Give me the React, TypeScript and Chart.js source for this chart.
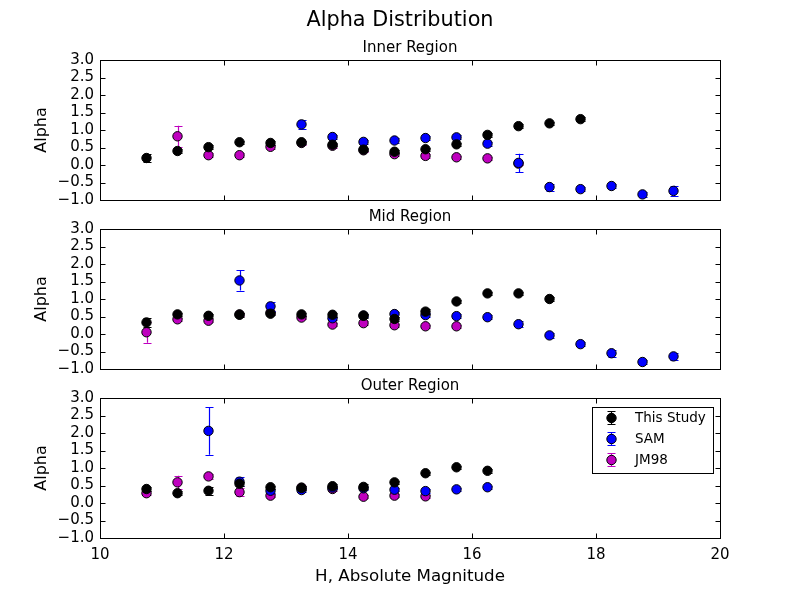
import { useEffect, useRef } from "react";
import { Chart, registerables } from "chart.js";

Chart.register(...registerables);

const magnitudes = [10.75, 11.25, 11.75, 12.25, 12.75, 13.25, 13.75, 14.25, 14.75, 15.25, 15.75, 16.25, 16.75, 17.25, 17.75, 18.25, 18.75, 19.25];
const xTicks = [10, 12, 14, 16, 18, 20];
const yTicks = [-1, -0.5, 0, 0.5, 1, 1.5, 2, 2.5, 3];
const seriesNames = ["This Study", "SAM", "JM98"];
const seriesColors = ["#000000", "#0000ff", "#bf00bf"];
const figureTitle = "Alpha Distribution";
const panelTitles = ["Inner Region", "Mid Region", "Outer Region"];

// Inner Region
const innerStudy = [0.2, 0.4, 0.51, 0.65, 0.63, 0.65, 0.58, 0.44, 0.38, 0.45, 0.59, 0.86, 1.11, 1.19, 1.31, null, null, null];
const innerStudyErr = [0.12, 0.06, 0.05, 0.05, 0.05, 0.05, 0.05, 0.05, 0.05, 0.05, 0.05, 0.05, 0.05, 0.05, 0.05, null, null, null];
const innerSam = [null, null, null, null, null, 1.16, 0.8, 0.66, 0.7, 0.77, 0.79, 0.61, 0.06, -0.63, -0.69, -0.6, -0.84, -0.74];
const innerSamErr = [null, null, null, null, null, 0.12, 0.07, 0.06, 0.06, 0.06, 0.06, 0.06, 0.26, 0.1, 0.06, 0.06, 0.08, 0.15];
const innerJm = [null, 0.82, 0.28, 0.28, 0.52, 0.63, 0.55, 0.42, 0.31, 0.26, 0.22, 0.19, 0.04, null, null, null, null, null];
const innerJmErr = [null, 0.3, 0.05, 0.05, 0.05, 0.05, 0.05, 0.05, 0.05, 0.05, 0.05, 0.05, 0.05, null, null, null, null, null];

// Mid Region
const midStudy = [0.33, 0.56, 0.52, 0.55, 0.58, 0.56, 0.55, 0.52, 0.43, 0.64, 0.93, 1.16, 1.16, 1.0, null, null, null, null];
const midStudyErr = [0.13, 0.05, 0.05, 0.05, 0.05, 0.05, 0.05, 0.05, 0.05, 0.08, 0.05, 0.05, 0.05, 0.05, null, null, null, null];
const midSam = [null, null, null, 1.53, 0.79, null, 0.45, 0.53, 0.57, 0.54, 0.51, 0.48, 0.28, -0.04, -0.29, -0.55, -0.8, -0.64];
const midSamErr = [null, null, null, 0.29, 0.12, null, 0.05, 0.05, 0.07, 0.05, 0.05, 0.05, 0.08, 0.07, 0.05, 0.1, 0.05, 0.1];
const midJm = [0.05, 0.42, 0.38, 0.56, 0.61, 0.47, 0.27, 0.31, 0.25, 0.22, 0.22, null, null, null, null, null, null, null];
const midJmErr = [0.3, 0.05, 0.05, 0.05, 0.05, 0.05, 0.05, 0.05, 0.05, 0.05, 0.05, null, null, null, null, null, null, null];

// Outer Region
const outerStudy = [0.4, 0.28, 0.35, 0.55, 0.45, 0.43, 0.48, 0.46, 0.59, 0.85, 1.02, 0.92, null, null, null, null, null, null];
const outerStudyErr = [0.07, 0.06, 0.12, 0.05, 0.05, 0.05, 0.05, 0.07, 0.05, 0.05, 0.05, 0.05, null, null, null, null, null, null];
const outerSam = [null, null, 2.06, 0.61, 0.35, 0.37, 0.44, 0.42, 0.38, 0.34, 0.39, 0.45, null, null, null, null, null, null];
const outerSamErr = [null, null, 0.68, 0.13, 0.05, 0.05, 0.05, 0.05, 0.05, 0.05, 0.05, 0.05, null, null, null, null, null, null];
const outerJm = [0.28, 0.59, 0.76, 0.31, 0.21, 0.44, 0.4, 0.18, 0.21, 0.19, null, null, null, null, null, null, null, null];
const outerJmErr = [0.05, 0.19, 0.06, 0.12, 0.05, 0.05, 0.05, 0.05, 0.05, 0.05, null, null, null, null, null, null, null, null];

const FONT = "'DejaVu Sans', sans-serif";

type Num = number | null;

function buildPoints(vals: Num[], errs: Num[]) {
  const pts: any[] = [];
  magnitudes.forEach((x, i) => {
    const v = vals[i];
    if (v !== null && v !== undefined) pts.push({ x, y: v, e: errs[i] ?? 0 });
  });
  return pts;
}

type PanelProps = {
  top: number;
  height: number;
  areaTop: number;
  title: string;
  titleY: number;
  figTitle?: string;
  figTitleY?: number;
  xAxisHeight: number;
  showX: boolean;
  showLegend: boolean;
  series: Num[][];
};

function Panel(props: PanelProps) {
  const ref = useRef<HTMLCanvasElement | null>(null);
  useEffect(() => {
    const canvas = ref.current;
    if (!canvas) return;
    const [s1, e1, s2, e2, s3, e3] = props.series;
    const datasets = [
      [s1, e1],
      [s2, e2],
      [s3, e3],
    ].map(([v, e], k) => ({
      label: seriesNames[k],
      data: buildPoints(v, e),
      backgroundColor: seriesColors[k],
      borderColor: "#000000",
      borderWidth: 1,
      pointRadius: 4.7,
      pointHoverRadius: 4.7,
      showLine: false,
    }));

    const decor = {
      id: "decor",
      beforeDatasetDraw(chart: any, args: any) {
        const ctx = chart.ctx;
        const ca = chart.chartArea;
        const xs = chart.scales.x;
        const ys = chart.scales.y;
        const ds = chart.data.datasets[args.index];
        const color = seriesColors[args.index];
        ctx.save();
        ctx.beginPath();
        ctx.rect(ca.left, ca.top, ca.right - ca.left, ca.bottom - ca.top);
        ctx.clip();
        ctx.strokeStyle = color;
        ctx.lineWidth = 1.2;
        ds.data.forEach((p: any) => {
          if (!p.e) return;
          const px = Math.round(xs.getPixelForValue(p.x)) + 0.5;
          const y1 = ys.getPixelForValue(p.y + p.e);
          const y2 = ys.getPixelForValue(p.y - p.e);
          ctx.beginPath();
          ctx.moveTo(px, y1);
          ctx.lineTo(px, y2);
          ctx.moveTo(px - 4, Math.round(y1) + 0.5);
          ctx.lineTo(px + 4, Math.round(y1) + 0.5);
          ctx.moveTo(px - 4, Math.round(y2) + 0.5);
          ctx.lineTo(px + 4, Math.round(y2) + 0.5);
          ctx.stroke();
        });
        ctx.restore();
      },
      afterDraw(chart: any) {
        const ctx = chart.ctx;
        const ca = chart.chartArea;
        const xs = chart.scales.x;
        const ys = chart.scales.y;
        const L = Math.round(ca.left) + 0.5;
        const R = Math.round(ca.right) + 0.5;
        const T = Math.round(ca.top) + 0.5;
        const B = Math.round(ca.bottom) + 0.5;
        ctx.save();
        ctx.strokeStyle = "#000000";
        ctx.lineWidth = 1;
        ctx.strokeRect(L, T, R - L, B - T);
        const tl = 5;
        ctx.beginPath();
        xTicks.forEach((v) => {
          const px = Math.round(xs.getPixelForValue(v)) + 0.5;
          ctx.moveTo(px, B);
          ctx.lineTo(px, B - tl);
          ctx.moveTo(px, T);
          ctx.lineTo(px, T + tl);
        });
        yTicks.forEach((v) => {
          const py = Math.round(ys.getPixelForValue(v)) + 0.5;
          ctx.moveTo(L, py);
          ctx.lineTo(L + tl, py);
          ctx.moveTo(R, py);
          ctx.lineTo(R - tl, py);
        });
        ctx.stroke();

        // titles
        ctx.fillStyle = "#000000";
        ctx.textAlign = "center";
        ctx.textBaseline = "middle";
        ctx.font = `15px ${FONT}`;
        ctx.fillText(props.title, (ca.left + ca.right) / 2, props.titleY);
        if (props.figTitle) {
          ctx.font = `20.8px ${FONT}`;
          ctx.fillText(props.figTitle, chart.width / 2, props.figTitleY);
        }

        if (props.showLegend) {
          const bw = 121;
          const bh = 66;
          const bx = Math.round(ca.right) - 7 - bw;
          const by = Math.round(ca.top) + 9;
          ctx.fillStyle = "#ffffff";
          ctx.fillRect(bx, by, bw, bh);
          ctx.strokeStyle = "#000000";
          ctx.lineWidth = 1;
          ctx.strokeRect(bx + 0.5, by + 0.5, bw, bh);
          seriesNames.forEach((name, i) => {
            const cy = by + 11 + i * 21;
            const mx = bx + 19.5;
            ctx.strokeStyle = seriesColors[i];
            ctx.lineWidth = 1.2;
            ctx.beginPath();
            ctx.moveTo(mx, cy - 7);
            ctx.lineTo(mx, cy + 7);
            ctx.moveTo(mx - 4, cy - 6.5);
            ctx.lineTo(mx + 4, cy - 6.5);
            ctx.moveTo(mx - 4, cy + 6.5);
            ctx.lineTo(mx + 4, cy + 6.5);
            ctx.stroke();
            ctx.lineWidth = 1;
            ctx.beginPath();
            ctx.arc(mx, cy, 4.7, 0, Math.PI * 2);
            ctx.fillStyle = seriesColors[i];
            ctx.fill();
            ctx.strokeStyle = "#000000";
            ctx.stroke();
            ctx.fillStyle = "#000000";
            ctx.font = `13.5px ${FONT}`;
            ctx.textBaseline = "middle";
            ctx.textAlign = "left";
            ctx.fillText(name, bx + 43, cy);
          });
        }
        ctx.restore();
      },
    };

    const chart = new Chart(canvas, {
      type: "scatter",
      data: { datasets },
      options: {
        responsive: false,
        maintainAspectRatio: false,
        animation: false,
        events: [],
        layout: { padding: { left: 0, right: 80, top: props.areaTop, bottom: 0 } },
        plugins: {
          legend: { display: false },
          tooltip: { enabled: false },
          title: { display: false },
        },
        scales: {
          x: {
            type: "linear",
            min: 10,
            max: 20,
            afterBuildTicks: (s: any) => {
              s.ticks = xTicks.map((v) => ({ value: v }));
            },
            afterFit: (s: any) => {
              s.height = props.xAxisHeight;
            },
            grid: { display: false, drawTicks: false },
            border: { display: false },
            ticks: {
              display: props.showX,
              color: "#000000",
              font: { family: FONT, size: 15 },
              padding: 8,
              maxRotation: 0,
              autoSkip: false,
              callback: (v: any) => String(v),
            },
            title: {
              display: props.showX,
              text: "H, Absolute Magnitude",
              color: "#000000",
              font: { family: FONT, size: 16.7, lineHeight: 1.2 },
              padding: { top: 0, bottom: 13 },
            },
          },
          y: {
            type: "linear",
            min: -1,
            max: 3,
            afterBuildTicks: (s: any) => {
              s.ticks = yTicks.map((v) => ({ value: v }));
            },
            afterFit: (s: any) => {
              s.width = 100;
            },
            grid: { display: false, drawTicks: false },
            border: { display: false },
            ticks: {
              color: "#000000",
              font: { family: FONT, size: 15 },
              padding: 6,
              autoSkip: false,
              callback: (v: any) => Number(v).toFixed(1).replace("-", "\u2212"),
            },
            title: {
              display: true,
              text: "Alpha",
              color: "#000000",
              font: { family: FONT, size: 16, lineHeight: 1.2 },
              padding: { top: 32, bottom: 0 },
            },
          },
        },
      } as any,
      plugins: [decor as any],
    });
    return () => chart.destroy();
  }, []);

  return (
    <canvas
      ref={ref}
      width={800}
      height={props.height}
      style={{ position: "absolute", left: 0, top: props.top, width: 800, height: props.height }}
    />
  );
}

export default function App() {
  return (
    <div style={{ position: "absolute", left: 0, top: 0, width: 800, height: 600, background: "#ffffff", overflow: "hidden" }}>
      <Panel
        top={0}
        height={224}
        areaTop={60}
        title={panelTitles[0]}
        titleY={48}
        figTitle={figureTitle}
        figTitleY={21}
        xAxisHeight={24}
        showX={false}
        showLegend={false}
        series={[innerStudy, innerStudyErr, innerSam, innerSamErr, innerJm, innerJmErr]}
      />
      <Panel
        top={200}
        height={193}
        areaTop={29}
        title={panelTitles[1]}
        titleY={17}
        xAxisHeight={24}
        showX={false}
        showLegend={false}
        series={[midStudy, midStudyErr, midSam, midSamErr, midJm, midJmErr]}
      />
      <Panel
        top={369}
        height={231}
        areaTop={29}
        title={panelTitles[2]}
        titleY={17}
        xAxisHeight={62}
        showX={true}
        showLegend={true}
        series={[outerStudy, outerStudyErr, outerSam, outerSamErr, outerJm, outerJmErr]}
      />
    </div>
  );
}
